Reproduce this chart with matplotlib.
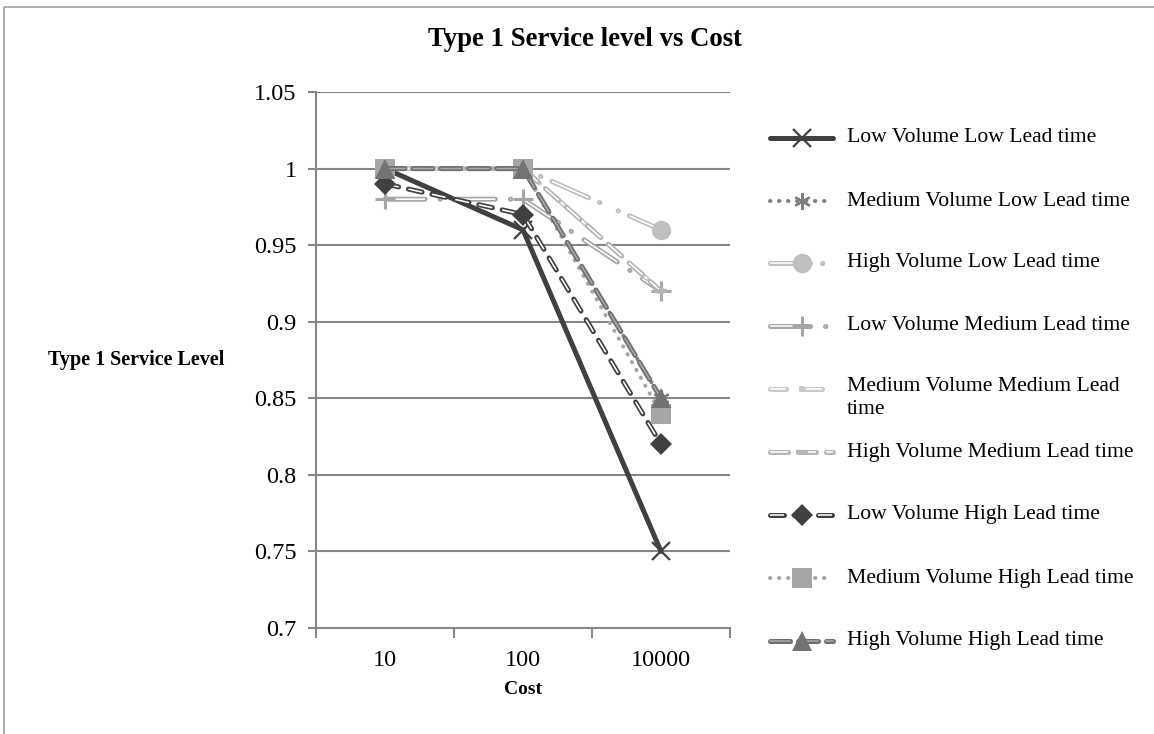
import matplotlib
matplotlib.use("Agg")
import matplotlib.pyplot as plt
from matplotlib.patches import Rectangle

plt.rcParams["font.family"] = ["Liberation Serif", "DejaVu Serif"]
plt.rcParams["lines.scale_dashes"] = False

# ---- data -------------------------------------------------------------
cost_labels = ["10", "100", "10000"]
y_ticks = [0.7, 0.75, 0.8, 0.85, 0.9, 0.95, 1.0, 1.05]
y_tick_labels = ["0.7", "0.75", "0.8", "0.85", "0.9", "0.95", "1", "1.05"]

series_names = [
    "Low Volume Low Lead time",
    "Medium Volume Low Lead time",
    "High Volume Low Lead time",
    "Low Volume Medium Lead time",
    "Medium Volume Medium Lead\ntime",
    "High Volume Medium Lead time",
    "Low Volume High Lead time",
    "Medium Volume High Lead time",
    "High Volume High Lead time",
]
low_vol_low_lead = [1.0, 0.96, 0.75]
med_vol_low_lead = [1.0, 1.0, 0.85]
high_vol_low_lead = [1.0, 1.0, 0.96]
low_vol_med_lead = [0.98, 0.98, 0.92]
med_vol_med_lead = [1.0, 1.0, 0.92]
high_vol_med_lead = [1.0, 1.0, 0.92]
low_vol_high_lead = [0.99, 0.97, 0.82]
med_vol_high_lead = [1.0, 1.0, 0.84]
high_vol_high_lead = [1.0, 1.0, 0.85]

series_values = [
    low_vol_low_lead, med_vol_low_lead, high_vol_low_lead,
    low_vol_med_lead, med_vol_med_lead, high_vol_med_lead,
    low_vol_high_lead, med_vol_high_lead, high_vol_high_lead,
]

# ---- styles (lengths in pixels, converted to points) -------------------
PX = 0.72
DOT = 0.4


def dash(*px):
    return (0, tuple(v * PX for v in px))


styles = [
    dict(color="#404040", lw=5, inner=None, ls="-",
         marker="x", ms=13, mc="#404040", mew=1.6),
    dict(color="#7f7f7f", lw=4, inner=None, ls=dash(DOT, 8.6),
         marker=(6, 2, 0), ms=12, mc="#7f7f7f", mew=1.6),
    dict(color="#bfbfbf", lw=5, inner="white",
         ls=dash(40, 12, DOT, 20, DOT, 12),
         marker="o", ms=14, mc="#c0c0c0", mew=0),
    dict(color="#a6a6a6", lw=5, inner="white", ls=dash(40, 15, DOT, 15),
         marker="+", ms=15, mc="#a6a6a6", mew=2.2),
    dict(color="#c8c8c8", lw=5, inner="white", ls=dash(16, 20),
         marker="s", ms=4, mc="#c8c8c8", mew=0),
    dict(color="#b4b4b4", lw=5, inner="white", ls=dash(18, 10),
         marker="_", ms=9, mc="#b4b4b4", mew=3),
    dict(color="#404040", lw=5, inner="white", ls=dash(14, 10),
         marker="D", ms=11, mc="#404040", mew=0),
    dict(color="#a6a6a6", lw=4, inner=None, ls=dash(DOT, 8.6),
         marker="s", ms=14, mc="#a6a6a6", mew=0),
    dict(color="#6e6e6e", lw=5, inner="#a8a8a8", ls=dash(20, 8),
         marker="^", ms=14, mc="#737373", mew=0),
]

GRID = "#868686"

fig = plt.figure(figsize=(11.54, 7.34), dpi=100)
ax = fig.add_axes([316 / 1154, 1 - 628 / 734, 414 / 1154, 536 / 734])

x_pos = [0.5, 1.5, 2.5]


def draw_series(target, xs, ys, st, z, marker_xy=None):
    inner_white = st["inner"] == "white"
    target.plot(xs, ys, color=st["color"], lw=st["lw"] * PX, linestyle=st["ls"],
                dash_capstyle="round", solid_capstyle="round",
                solid_joinstyle="round", zorder=z, clip_on=False)
    if st["inner"] is not None:
        target.plot(xs, ys, color=st["inner"], lw=1.6 * PX, linestyle=st["ls"],
                    dash_capstyle="butt" if inner_white else "round",
                    solid_capstyle="round",
                    zorder=z + 0.1, clip_on=False)
    mx, my = marker_xy if marker_xy is not None else (xs, ys)
    mkw = dict(marker=st["marker"], markersize=st["ms"], linestyle="none",
               zorder=z + 0.2, clip_on=False, markeredgewidth=st["mew"])
    if st["marker"] in ("x", "+", "_") or isinstance(st["marker"], tuple):
        target.plot(mx, my, color=st["mc"], **mkw)
    else:
        target.plot(mx, my, color=st["mc"], markeredgecolor=st["mc"], **mkw)


for i, (vals, st) in enumerate(zip(series_values, styles)):
    draw_series(ax, x_pos, vals, st, 3 + i)

ax.set_xlim(0, 3)
ax.set_ylim(0.7, 1.05)
ax.set_yticks(y_ticks)
ax.set_yticklabels(y_tick_labels, fontsize=17.5)
ax.set_xticks([0, 1, 2, 3])
ax.set_xticklabels([])
ax.set_xticks(x_pos, minor=True)
ax.set_xticklabels(cost_labels, minor=True, fontsize=17.5)
ax.tick_params(axis="x", which="major", length=7, width=1.5, color=GRID,
               direction="out")
ax.tick_params(axis="x", which="minor", length=0, pad=16)
ax.tick_params(axis="y", length=6, width=1.5, color=GRID, direction="out",
               pad=8)

for y in y_ticks[1:]:
    ax.axhline(y, color=GRID, lw=1.5, zorder=1)
for side in ("top", "right"):
    ax.spines[side].set_visible(False)
for side in ("left", "bottom"):
    ax.spines[side].set_color(GRID)
    ax.spines[side].set_linewidth(1.5)
    ax.spines[side].set_zorder(2)

ax.set_xlabel("Cost", fontsize=14, fontweight="bold", labelpad=7)
ax.set_ylabel("Type 1 Service Level", fontsize=14.5, fontweight="bold",
              rotation=0, ha="center", va="center")
ax.yaxis.set_label_coords(-0.435, 0.5)

fig.text(585 / 1154, 1 - 40 / 734, "Type 1 Service level vs Cost",
         fontsize=19.3, fontweight="bold", ha="center", va="center")

# ---- overlay in pixel coordinates: chart border and legend -------------
lax = fig.add_axes([0, 0, 1, 1])
lax.set_xlim(0, 1154)
lax.set_ylim(734, 0)
lax.axis("off")
lax.add_patch(Rectangle((4, 7), 1300, 900, fill=False, edgecolor="#a0a0a0",
                        lw=1.2))

row_y = [138, 201, 263, 326, 389, 452, 515, 578, 641]
for i, (name, st) in enumerate(zip(series_names, styles)):
    y = row_y[i]
    draw_series(lax, [770, 833], [y, y], st, 3 + i, marker_xy=([801.5], [y]))
    if "\n" in name:
        lax.text(847, y - 12, name, fontsize=15.6, ha="left", va="top",
                 linespacing=1.25)
    else:
        lax.text(847, y, name, fontsize=15.6, ha="left", va="center")

fig.savefig("out.png", dpi=100)
